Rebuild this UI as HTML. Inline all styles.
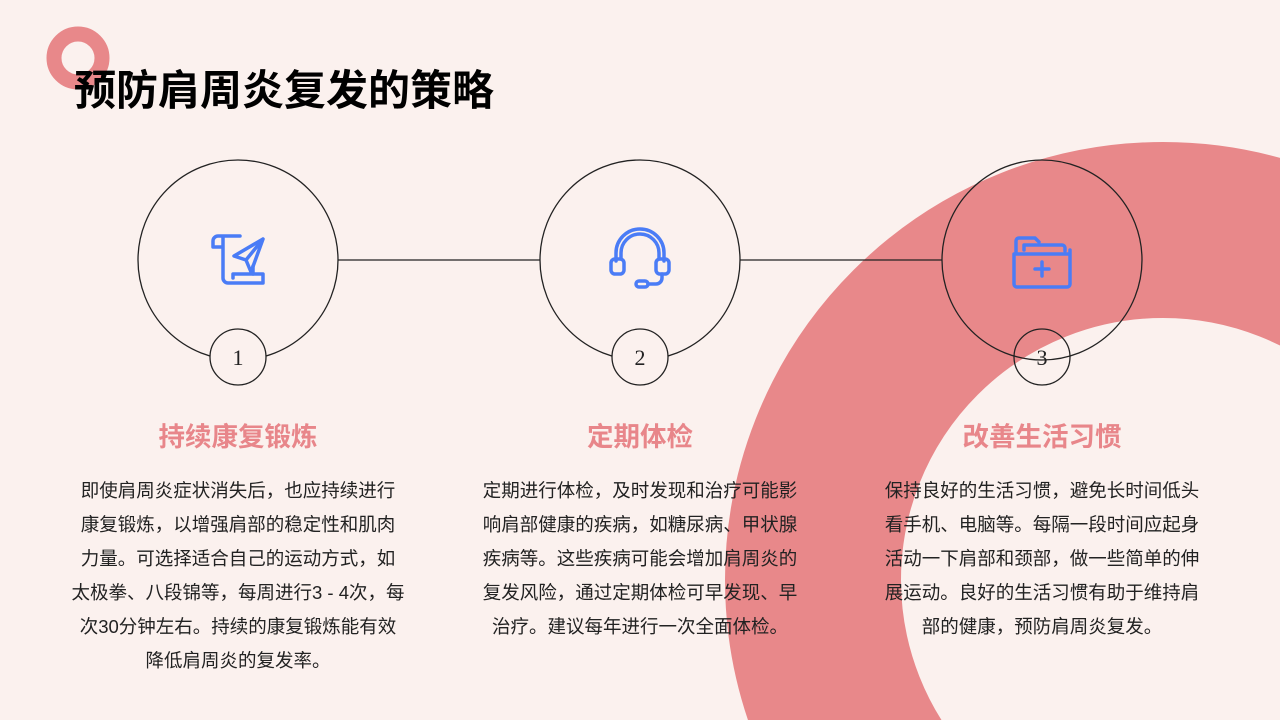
<!DOCTYPE html>
<html><head><meta charset="utf-8"><style>
html,body{margin:0;width:1280px;height:720px;overflow:hidden}
body{background:#fbf1ee;font-family:"Liberation Sans","Noto Sans CJK SC",sans-serif;position:relative}
svg{position:absolute;left:0;top:0}
.t{position:absolute;left:74px;top:57px;font-size:42px;font-weight:bold;color:#000;white-space:nowrap}
.h{position:absolute;width:360px;text-align:center;top:419px;font-size:26.5px;line-height:36px;font-weight:bold;color:#e8868a}
.p{position:absolute;width:326px;text-align:center;top:474px;font-size:18.5px;line-height:34px;color:#222}
</style></head><body>
<svg width="1280" height="720">
<circle cx="1163" cy="580" r="350" fill="none" stroke="#e8888a" stroke-width="176"/>
<circle cx="78" cy="58" r="24" fill="none" stroke="#e8888a" stroke-width="15"/>
<line x1="338" y1="260" x2="540" y2="260" stroke="#222" stroke-width="1.3"/>
<line x1="740" y1="260" x2="942" y2="260" stroke="#222" stroke-width="1.3"/>
<g fill="none" stroke="#222" stroke-width="1.3">
<circle cx="238" cy="260" r="100"/><circle cx="640" cy="260" r="100"/><circle cx="1042" cy="260" r="100"/>
</g>
<g stroke="#222" stroke-width="1.3">
<circle cx="238" cy="357" r="28" fill="#fbf1ee"/><circle cx="640" cy="357" r="28" fill="#fbf1ee"/><circle cx="1042" cy="357" r="28" fill="none"/>
</g>
<g font-family="Liberation Serif,serif" font-size="22" fill="#222" text-anchor="middle">
<text x="238" y="365">1</text><text x="640" y="365">2</text><text x="1042" y="365">3</text>
</g>
<g fill="none" stroke="#4a7cf6" stroke-width="3.5" stroke-linecap="round" stroke-linejoin="round">
<path d="M218 236 h22 M218 236 a5 5 0 0 0 -5 5 v6 h10 M223 236 v42 a5 5 0 0 0 5 5 h35 v-9 h-30 v4"/>
<path d="M263 239 l-29 17 l12 4 l5 12 z M246 260 l17 -21"/>
<line x1="253" y1="266" x2="253" y2="274"/>
<path d="M616 261 v-8 a24 24 0 0 1 48 0 v8"/>
<path d="M621 259 v-6 a19 19 0 0 1 38 0 v6"/>
<rect x="611" y="259" width="13" height="15" rx="4"/>
<rect x="656" y="259" width="13" height="15" rx="4"/>
<path d="M662 274 v4 a6 6 0 0 1 -6 6 h-8"/>
<rect x="636" y="281" width="12" height="6" rx="3"/>
<path d="M1016 253 v-12 a3 3 0 0 1 3 -3 h16 l4 4 M1024 250 v-5 h38 a3 3 0 0 1 3 3 v3"/>
<path d="M1014 254 h56 v30 a3 3 0 0 1 -3 3 h-50 a3 3 0 0 1 -3 -3 z M1070 250 v4"/>
<path d="M1042 262 v14 M1035 269 h14"/>
</g>
</svg>
<div class="t">预防肩周炎复发的策略</div>
<div class="h" style="left:58px">持续康复锻炼</div>
<div class="h" style="left:460px">定期体检</div>
<div class="h" style="left:862px">改善生活习惯</div>
<div class="p" style="left:71px;width:334px">即使肩周炎症状消失后，也应持续进行<br>康复锻炼，以增强肩部的稳定性和肌肉<br>力量。可选择适合自己的运动方式，如<br>太极拳、八段锦等，每周进行3 - 4次，每<br>次30分钟左右。持续的康复锻炼能有效<br>降低肩周炎的复发率。</div>
<div class="p" style="left:477px">定期进行体检，及时发现和治疗可能影响肩部健康的疾病，如糖尿病、甲状腺疾病等。这些疾病可能会增加肩周炎的复发风险，通过定期体检可早发现、早治疗。建议每年进行一次全面体检。</div>
<div class="p" style="left:879px">保持良好的生活习惯，避免长时间低头看手机、电脑等。每隔一段时间应起身活动一下肩部和颈部，做一些简单的伸展运动。良好的生活习惯有助于维持肩部的健康，预防肩周炎复发。</div>
</body></html>
